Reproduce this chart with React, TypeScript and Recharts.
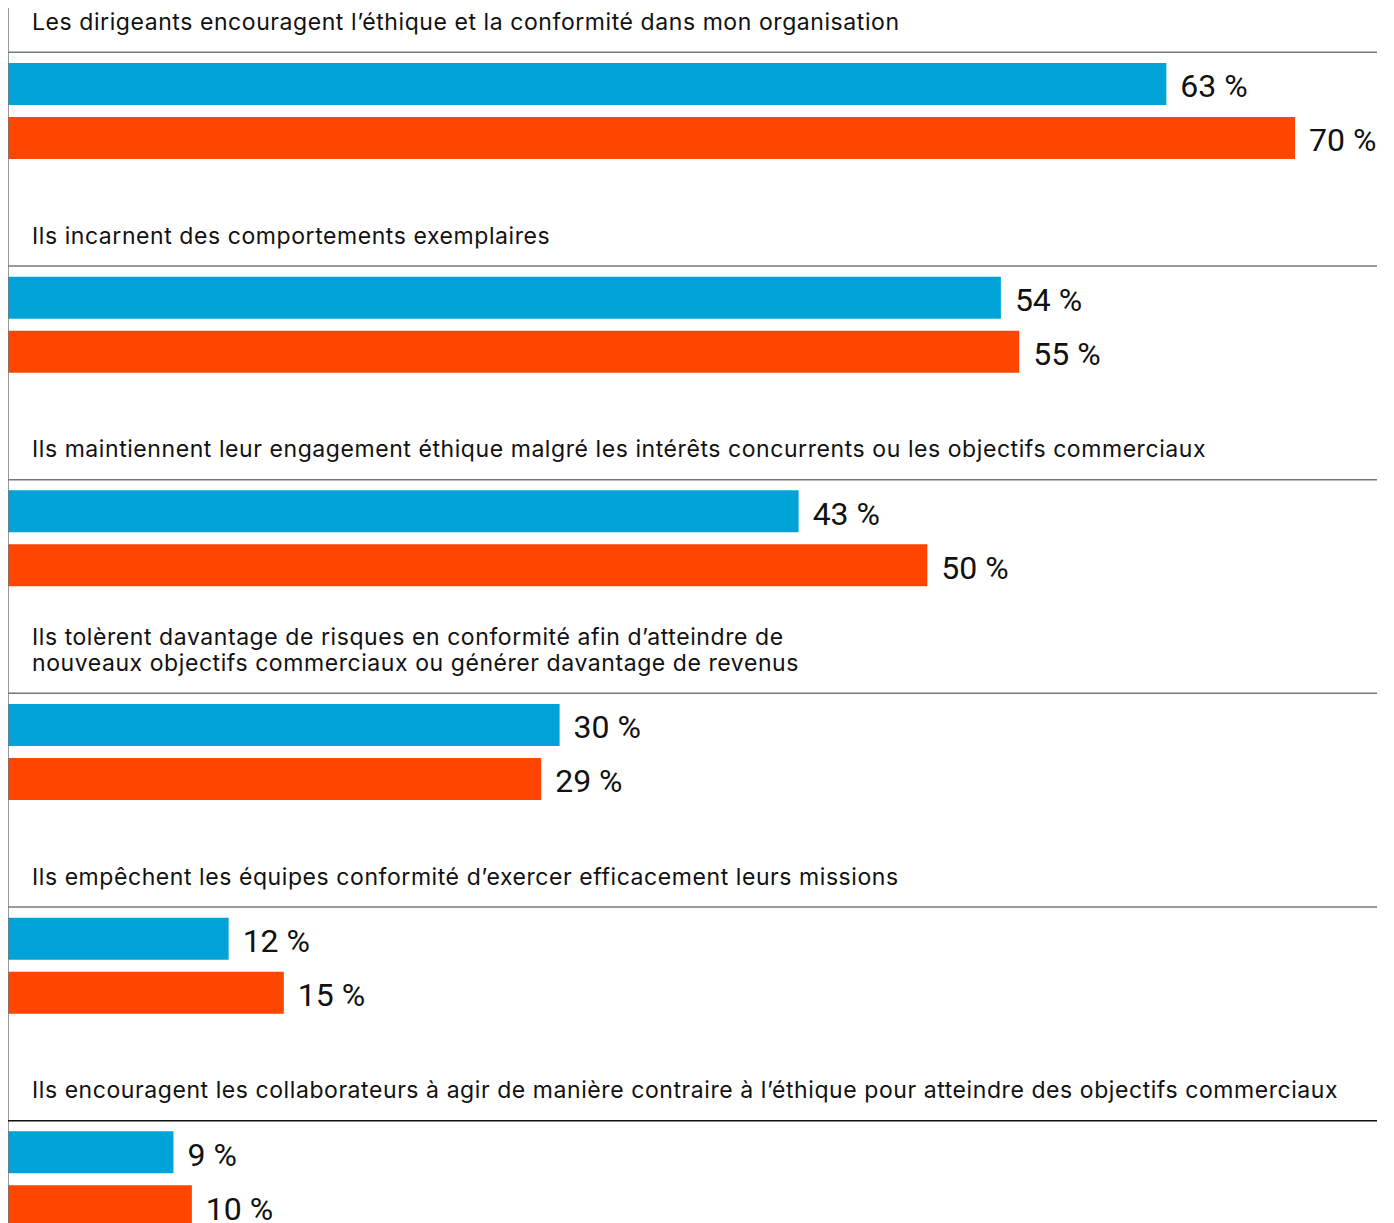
import React from "react";
import { BarChart, Bar, XAxis, YAxis, LabelList } from "recharts";

const questions: string[][] = [
  ["Les dirigeants encouragent l’éthique et la conformité dans mon organisation"],
  ["Ils incarnent des comportements exemplaires"],
  ["Ils maintiennent leur engagement éthique malgré les intérêts concurrents ou les objectifs commerciaux"],
  [
    "Ils tolèrent davantage de risques en conformité afin d’atteindre de",
    "nouveaux objectifs commerciaux ou générer davantage de revenus",
  ],
  ["Ils empêchent les équipes conformité d’exercer efficacement leurs missions"],
  ["Ils encouragent les collaborateurs à agir de manière contraire à l’éthique pour atteindre des objectifs commerciaux"],
];
const seriesBlue: number[] = [63, 54, 43, 30, 12, 9];
const seriesOrange: number[] = [70, 55, 50, 29, 15, 10];

const data = questions.map((q, i) => ({
  cat: String(i),
  blue: seriesBlue[i],
  orange: seriesOrange[i],
}));

const TITLE_FONT = "Inter, 'Noto Sans', sans-serif";
const FONT = "Roboto, 'Noto Sans', sans-serif";

const TitleTick = (props: any) => {
  const { y, payload } = props;
  const idx = Number(payload.value);
  const lines = questions[idx] || [];
  const n = lines.length;
  return (
    <g>
      {lines.map((t, j) => (
        <text
          key={j}
          x={32}
          y={y - 81 - (n - 1 - j) * 26}
          fontFamily={TITLE_FONT}
          fontSize={23}
          letterSpacing={0.57}
          fill="#111"
          textAnchor="start"
        >
          {t}
        </text>
      ))}
      <line
        x1={8}
        x2={1377}
        y1={y - 58.5}
        y2={y - 58.5}
        stroke={idx === questions.length - 1 ? "#111" : "#777"}
        strokeWidth={1.5}
      />
    </g>
  );
};

const pct = (v: any) => `${v} %`;

export default function App() {
  return (
    <div style={{ margin: -8, width: 1394, background: "#fff" }}>
      <BarChart
        width={1394}
        height={1286}
        data={data}
        layout="vertical"
        margin={{ top: 4, right: 7, bottom: 0, left: 0 }}
        barSize={42}
        barGap={12}
      >
        <XAxis type="number" domain={[0, 75]} hide />
        <YAxis
          type="category"
          dataKey="cat"
          width={8}
          tickLine={false}
          axisLine={{ stroke: "#777", strokeWidth: 1.5 }}
          tick={TitleTick}
          interval={0}
        />
        <Bar dataKey="blue" fill="#00A3D7" isAnimationActive={false}>
          <LabelList
            dataKey="blue"
            position="right"
            offset={14}
            formatter={pct}
            style={{ fontFamily: FONT, fontSize: 32, fill: "#111", transform: "translateY(2px)" }}
          />
        </Bar>
        <Bar dataKey="orange" fill="#FF4500" isAnimationActive={false}>
          <LabelList
            dataKey="orange"
            position="right"
            offset={14}
            formatter={pct}
            style={{ fontFamily: FONT, fontSize: 32, fill: "#111", transform: "translateY(2px)" }}
          />
        </Bar>
      </BarChart>
    </div>
  );
}
